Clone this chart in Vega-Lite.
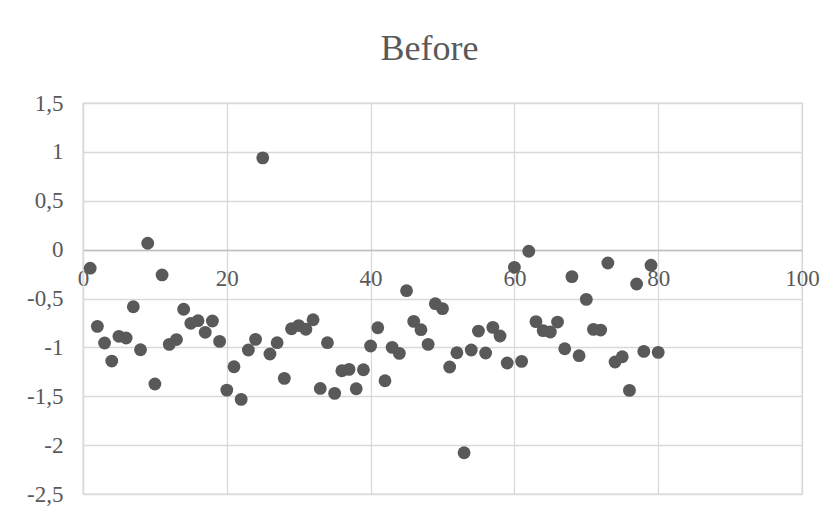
{
  "$schema": "https://vega.github.io/schema/vega-lite/v6.json",
  "width": 719,
  "height": 391,
  "autosize": {"type": "none"},
  "padding": {"left": 83, "top": 103, "right": 38, "bottom": 23},
  "background": "white",
  "title": {
    "text": "Before",
    "font": "Liberation Serif",
    "fontSize": 36,
    "fontWeight": "normal",
    "color": "#595959",
    "anchor": "middle",
    "dx": -13,
    "offset": 24
  },
  "data": {
    "values": [
      {"x": 1, "y": -0.19}, {"x": 2, "y": -0.785}, {"x": 3, "y": -0.955}, {"x": 4, "y": -1.14},
      {"x": 5, "y": -0.887}, {"x": 6, "y": -0.904}, {"x": 7, "y": -0.584}, {"x": 8, "y": -1.024},
      {"x": 9, "y": 0.065}, {"x": 10, "y": -1.375}, {"x": 11, "y": -0.259}, {"x": 12, "y": -0.969},
      {"x": 13, "y": -0.92}, {"x": 14, "y": -0.61}, {"x": 15, "y": -0.754}, {"x": 16, "y": -0.727},
      {"x": 17, "y": -0.846}, {"x": 18, "y": -0.73}, {"x": 19, "y": -0.939}, {"x": 20, "y": -1.437},
      {"x": 21, "y": -1.198}, {"x": 22, "y": -1.532}, {"x": 23, "y": -1.027}, {"x": 24, "y": -0.918},
      {"x": 25, "y": 0.939}, {"x": 26, "y": -1.068}, {"x": 27, "y": -0.952}, {"x": 28, "y": -1.317},
      {"x": 29, "y": -0.809}, {"x": 30, "y": -0.777}, {"x": 31, "y": -0.815}, {"x": 32, "y": -0.717},
      {"x": 33, "y": -1.42}, {"x": 34, "y": -0.952}, {"x": 35, "y": -1.471}, {"x": 36, "y": -1.239},
      {"x": 37, "y": -1.225}, {"x": 38, "y": -1.423}, {"x": 39, "y": -1.229}, {"x": 40, "y": -0.986},
      {"x": 41, "y": -0.799}, {"x": 42, "y": -1.341}, {"x": 43, "y": -1.0}, {"x": 44, "y": -1.061},
      {"x": 45, "y": -0.42}, {"x": 46, "y": -0.734}, {"x": 47, "y": -0.819}, {"x": 48, "y": -0.969},
      {"x": 49, "y": -0.553}, {"x": 50, "y": -0.604}, {"x": 51, "y": -1.201}, {"x": 52, "y": -1.055},
      {"x": 53, "y": -2.078}, {"x": 54, "y": -1.027}, {"x": 55, "y": -0.833}, {"x": 56, "y": -1.058},
      {"x": 57, "y": -0.795}, {"x": 58, "y": -0.884}, {"x": 59, "y": -1.16}, {"x": 60, "y": -0.181},
      {"x": 61, "y": -1.143}, {"x": 62, "y": -0.017}, {"x": 63, "y": -0.737}, {"x": 64, "y": -0.829},
      {"x": 65, "y": -0.843}, {"x": 66, "y": -0.741}, {"x": 67, "y": -1.014}, {"x": 68, "y": -0.276},
      {"x": 69, "y": -1.085}, {"x": 70, "y": -0.509}, {"x": 71, "y": -0.816}, {"x": 72, "y": -0.823},
      {"x": 73, "y": -0.137}, {"x": 74, "y": -1.15}, {"x": 75, "y": -1.096}, {"x": 76, "y": -1.44},
      {"x": 77, "y": -0.352}, {"x": 78, "y": -1.041}, {"x": 79, "y": -0.16}, {"x": 80, "y": -1.051}
    ]
  },
  "mark": {"type": "circle", "size": 165, "color": "#595959", "opacity": 1},
  "encoding": {
    "x": {
      "field": "x",
      "type": "quantitative",
      "scale": {"domain": [0, 100], "nice": false, "zero": false},
      "axis": {
        "title": null,
        "orient": "bottom",
        "offset": -244,
        "values": [0, 20, 40, 60, 80, 100],
        "grid": true,
        "gridColor": "#d9d9d9",
        "gridWidth": 1.3,
        "domain": true,
        "domainColor": "#bfbfbf",
        "domainWidth": 1.3,
        "ticks": false,
        "tickSize": 0,
        "labelPadding": 17,
        "labelFlush": false,
        "labelOverlap": false,
        "labelFont": "Liberation Serif",
        "labelFontSize": 23,
        "labelColor": "#595959"
      }
    },
    "y": {
      "field": "y",
      "type": "quantitative",
      "scale": {"domain": [-2.5, 1.5], "nice": false, "zero": false},
      "axis": {
        "title": null,
        "values": [-2.5, -2, -1.5, -1, -0.5, 0, 0.5, 1, 1.5],
        "labelExpr": "replace(toString(datum.value), '.', ',')",
        "grid": true,
        "gridColor": "#d9d9d9",
        "gridWidth": 1.3,
        "domain": true,
        "domainColor": "#d9d9d9",
        "domainWidth": 1.3,
        "ticks": false,
        "tickSize": 0,
        "labelPadding": 20,
        "labelFlush": false,
        "labelOverlap": false,
        "labelFont": "Liberation Serif",
        "labelFontSize": 23,
        "labelColor": "#595959"
      }
    }
  },
  "config": {
    "view": {"stroke": "#d9d9d9", "strokeWidth": 1.3}
  }
}
